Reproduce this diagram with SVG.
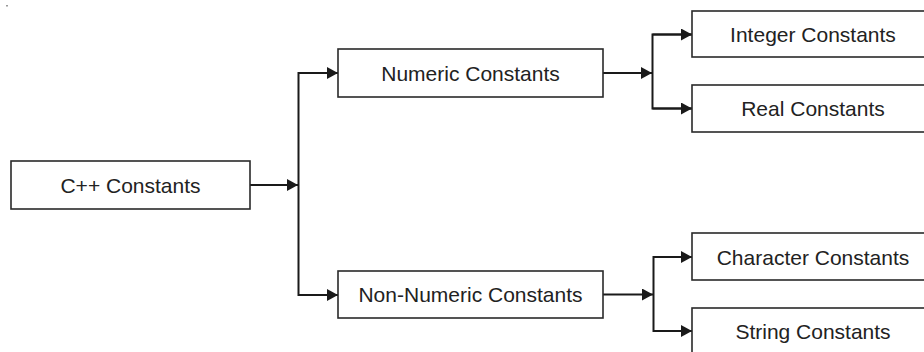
<svg xmlns="http://www.w3.org/2000/svg" width="924" height="352" viewBox="0 0 924 352">
  <style>
    .box { fill: #ffffff; stroke: #2a2a2a; stroke-width: 1.6; }
    .lbl { font-family: "Liberation Sans", Arial, Helvetica, sans-serif; font-size: 21px; fill: #222222; text-anchor: middle; }
    .conn { fill: none; stroke: #1a1a1a; stroke-width: 2; }
  </style>
  <defs>
    <marker id="arr" markerUnits="userSpaceOnUse" markerWidth="12" markerHeight="12" refX="11" refY="6" orient="auto">
      <path d="M0,0 L11,6 L0,12 Z" fill="#1a1a1a"/>
    </marker>
  </defs>
  <rect x="6" y="5" width="2" height="1.5" fill="#999999"/>
  <g id="connectors">
    <line class="conn" x1="250" y1="185" x2="298" y2="185" marker-end="url(#arr)"/>
    <polyline class="conn" points="338,73 298.5,73 298.5,295 338,295"/>
    <line class="conn" x1="298.5" y1="73" x2="338" y2="73" marker-end="url(#arr)"/>
    <line class="conn" x1="298.5" y1="295" x2="338" y2="295" marker-end="url(#arr)"/>
    <line class="conn" x1="603" y1="73" x2="652" y2="73" marker-end="url(#arr)"/>
    <polyline class="conn" points="692,34.5 652.5,34.5 652.5,108.5 692,108.5"/>
    <line class="conn" x1="652.5" y1="34.5" x2="692" y2="34.5" marker-end="url(#arr)"/>
    <line class="conn" x1="652.5" y1="108.5" x2="692" y2="108.5" marker-end="url(#arr)"/>
    <line class="conn" x1="603" y1="294.5" x2="653" y2="294.5" marker-end="url(#arr)"/>
    <polyline class="conn" points="692,257 653.5,257 653.5,331 692,331"/>
    <line class="conn" x1="653.5" y1="257" x2="692" y2="257" marker-end="url(#arr)"/>
    <line class="conn" x1="653.5" y1="331" x2="692" y2="331" marker-end="url(#arr)"/>
  </g>
  <g id="cpp-constants">
    <rect class="box" x="11" y="161" width="239" height="48"/>
    <text class="lbl" x="130.5" y="192.5">C++ Constants</text>
  </g>
  <g id="numeric-constants">
    <rect class="box" x="338" y="49" width="265" height="48"/>
    <text class="lbl" x="470.5" y="80.5">Numeric Constants</text>
  </g>
  <g id="non-numeric-constants">
    <rect class="box" x="338" y="271" width="265" height="47"/>
    <text class="lbl" x="470.5" y="302">Non-Numeric Constants</text>
  </g>
  <g id="integer-constants">
    <rect class="box" x="692" y="11" width="250" height="46"/>
    <text class="lbl" x="813" y="41.5">Integer Constants</text>
  </g>
  <g id="real-constants">
    <rect class="box" x="692" y="85" width="250" height="47"/>
    <text class="lbl" x="813" y="116">Real Constants</text>
  </g>
  <g id="character-constants">
    <rect class="box" x="692" y="233" width="250" height="47"/>
    <text class="lbl" x="813" y="264.5">Character Constants</text>
  </g>
  <g id="string-constants">
    <rect class="box" x="692" y="308" width="250" height="50"/>
    <text class="lbl" x="813" y="338.5">String Constants</text>
  </g>
</svg>
